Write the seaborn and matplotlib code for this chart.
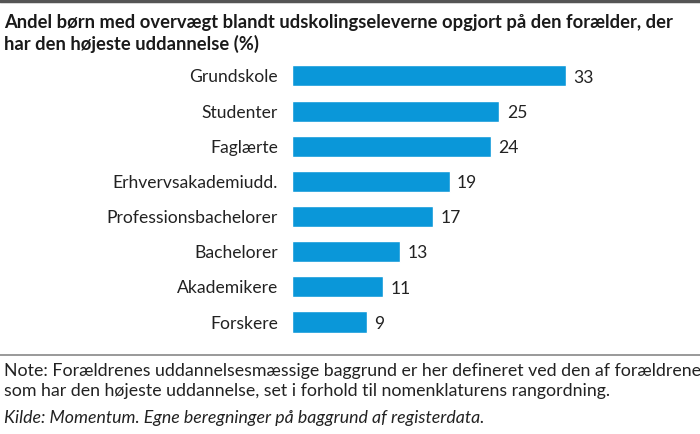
import matplotlib
matplotlib.use("Agg")
import matplotlib.pyplot as plt
import seaborn as sns
import pandas as pd

# data
categories = ["Grundskole", "Studenter", "Faglærte", "Erhvervsakademiudd.",
              "Professionsbachelorer", "Bachelorer", "Akademikere", "Forskere"]
values = [33, 25, 24, 19, 17, 13, 11, 9]

title = ("Andel børn med overvægt blandt udskolingseleverne opgjort på den forælder, der\n"
         "har den højeste uddannelse (%)")
note = ("Note: Forældrenes uddannelsesmæssige baggrund er her defineret ved den af forældrene\n"
        "som har den højeste uddannelse, set i forhold til nomenklaturens rangordning.")
source = "Kilde: Momentum. Egne beregninger på baggrund af registerdata."

df = pd.DataFrame({"kategori": categories, "andel": values})

sns.set_theme(style="white")
plt.rcParams["font.family"] = ["Lato", "DejaVu Sans"]

fig = plt.figure(figsize=(7, 4.34), dpi=100)
ax = fig.add_axes([0.417, 0.2175, 0.474, 0.648])

sns.barplot(data=df, x="andel", y="kategori", color="#0a97d9", width=0.6,
            saturation=1, ax=ax)

ax.set_xlim(0, 40)
ax.set_ylim(7.5, -0.5)
ax.set_xlabel("")
ax.set_ylabel("")
ax.set_xticks([])
ax.tick_params(axis="y", length=0, pad=10, labelsize=12.6, labelcolor="#222222")
sns.despine(ax=ax, left=True, bottom=True)

for i, v in enumerate(values):
    ax.text(v + 0.9, i + 0.05, str(v), va="center", ha="left",
            fontsize=12.6, color="#222222")

# title, separators and notes
fig.text(0.006, 0.968, title, ha="left", va="top", fontsize=13.2,
         fontweight="bold", color="#1a1a1a", linespacing=1.25)
fig.add_artist(plt.Line2D([0, 1], [0.997, 0.997], color="#555555", lw=2.5))
fig.add_artist(plt.Line2D([0, 1], [0.182, 0.182], color="#888888", lw=1.2))
fig.text(0.006, 0.163, note, ha="left", va="top", fontsize=12.8,
         color="#222222", linespacing=1.3)
fig.text(0.006, 0.055, source, ha="left", va="top", fontsize=12.8,
         style="italic", color="#222222")

fig.savefig("out.png", dpi=100)
